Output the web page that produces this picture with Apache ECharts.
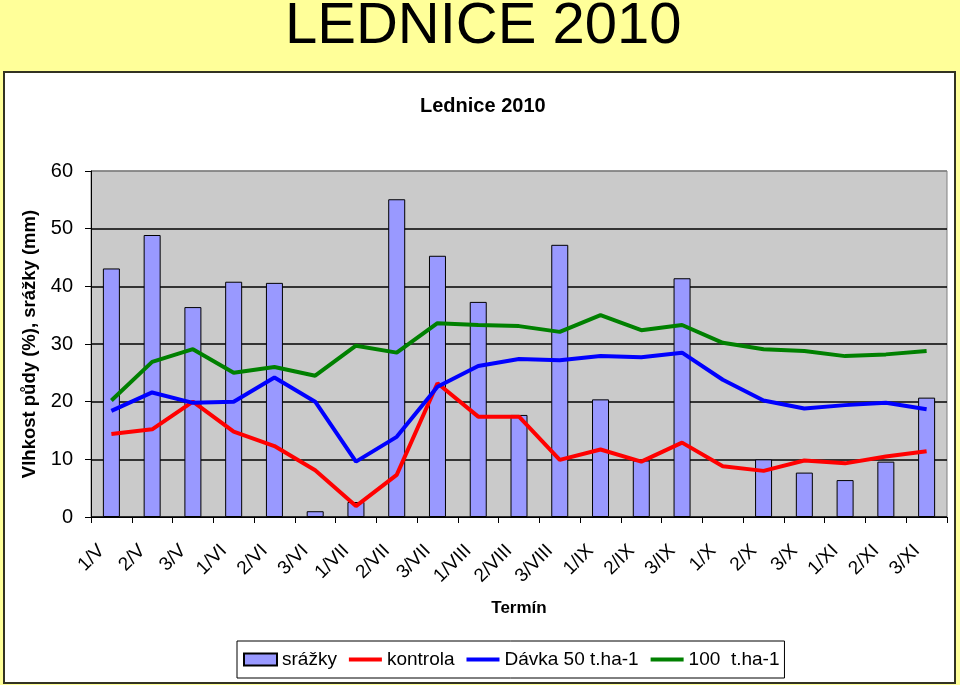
<!DOCTYPE html>
<html>
<head>
<meta charset="utf-8">
<script src="https://cdn.jsdelivr.net/npm/echarts@6/dist/echarts.min.js"></script>
<style>
html,body{margin:0;padding:0;background:#FFFF99;}
#c{width:960px;height:685px;}
</style>
</head>
<body>
<div id="c"></div>
<script>
const categories = ['1/V','2/V','3/V','1/VI','2/VI','3/VI','1/VII','2/VII','3/VII','1/VIII','2/VIII','3/VIII','1/IX','2/IX','3/IX','1/X','2/X','3/X','1/XI','2/XI','3/XI'];
const srazky   = [43.1, 48.9, 36.4, 40.8, 40.6, 1.0, 2.6, 55.1, 45.3, 37.3, 17.7, 47.2, 20.4, 9.8, 41.4, null, 10.0, 7.7, 6.4, 9.6, 20.7];
const kontrola = [14.4, 15.2, 20.0, 14.8, 12.3, 8.1, 1.9, 7.3, 23.2, 17.4, 17.4, 9.9, 11.7, 9.6, 12.9, 8.8, 8.0, 9.8, 9.3, 10.5, 11.4];
const davka50  = [18.4, 21.6, 19.8, 20.0, 24.2, 20.0, 9.6, 13.9, 22.6, 26.2, 27.4, 27.2, 27.9, 27.7, 28.5, 23.8, 20.2, 18.8, 19.4, 19.8, 18.7];
const davka100 = [20.2, 26.9, 29.1, 25.0, 26.0, 24.5, 29.7, 28.5, 33.6, 33.3, 33.1, 32.1, 35.0, 32.4, 33.3, 30.2, 29.1, 28.8, 27.9, 28.2, 28.8];
const seriesNames = ['srážky', 'kontrola', 'Dávka 50 t.ha-1', '100  t.ha-1'];

const FONT = 'Liberation Sans, Arial, sans-serif';
const LINE_ICON = 'path://M0,0 L33,0 L33,4 L0,4 Z';
const chart = echarts.init(document.getElementById('c'), null, {renderer: 'canvas'});
chart.setOption({
  backgroundColor: '#FFFF99',
  animation: false,
  textStyle: {fontFamily: FONT, color: '#000'},
  graphic: [{
    type: 'rect', z: -10, silent: true,
    shape: {x: 4, y: 72, width: 951, height: 611},
    style: {fill: '#FFFFFF', stroke: '#333322', lineWidth: 2}
  }],
  title: [
    {text: 'LEDNICE 2010', left: 285, top: -2, padding: 0,
     textStyle: {fontFamily: FONT, fontSize: 58, fontWeight: 'normal', color: '#000'}},
    {text: 'Lednice 2010', left: 420, top: 96, padding: 0,
     textStyle: {fontFamily: FONT, fontSize: 20, fontWeight: 'bold', color: '#000'}}
  ],
  legend: {
    left: 237, top: 641,
    orient: 'horizontal',
    borderColor: '#000', borderWidth: 1,
    padding: [9, 5, 9, 6],
    itemGap: 12, itemWidth: 33, itemHeight: 12,
    textStyle: {fontFamily: FONT, fontSize: 19, color: '#000'},
    data: [
      {name: seriesNames[0], icon: 'rect'},
      {name: seriesNames[1], icon: LINE_ICON},
      {name: seriesNames[2], icon: LINE_ICON},
      {name: seriesNames[3], icon: LINE_ICON}
    ]
  },
  grid: {left: 91, right: 13, top: 171, bottom: 168, show: true,
         backgroundColor: '#CACACA', borderColor: '#808080', borderWidth: 1},
  xAxis: {
    type: 'category', data: categories,
    name: 'Termín', nameLocation: 'middle', nameGap: 83,
    nameTextStyle: {fontFamily: FONT, fontSize: 17, fontWeight: 'bold', color: '#000'},
    axisLine: {lineStyle: {color: '#000', width: 1}},
    axisTick: {show: true, interval: 0, length: 6, lineStyle: {color: '#000'}},
    axisLabel: {interval: 0, rotate: 45, fontSize: 19, color: '#000', margin: 21,
                padding: [0, 14, 0, 0], fontFamily: FONT}
  },
  yAxis: {
    type: 'value', min: 0, max: 60, interval: 10,
    name: 'Vlhkost půdy (%), srážky (mm)', nameLocation: 'middle', nameGap: 47,
    nameTextStyle: {fontFamily: FONT, fontSize: 18.5, fontWeight: 'bold', color: '#000'},
    axisLine: {show: true, lineStyle: {color: '#000', width: 1}},
    axisTick: {show: true, length: 6, lineStyle: {color: '#000'}},
    axisLabel: {fontSize: 20, color: '#000', margin: 18, fontFamily: FONT},
    splitLine: {show: true, lineStyle: {color: ['#000','#000','#000','#000','#000','#000','#808080'], width: 1.5}}
  },
  series: [
    {name: seriesNames[0], type: 'bar', data: srazky, barWidth: 17, z: 2,
     itemStyle: {color: '#9999FF', borderColor: '#000', borderWidth: 1}},
    {name: seriesNames[1], type: 'line', data: kontrola, symbol: 'none', z: 3,
     lineStyle: {color: '#FF0000', width: 4}, itemStyle: {color: '#FF0000'}},
    {name: seriesNames[2], type: 'line', data: davka50, symbol: 'none', z: 3,
     lineStyle: {color: '#0000FF', width: 4}, itemStyle: {color: '#0000FF'}},
    {name: seriesNames[3], type: 'line', data: davka100, symbol: 'none', z: 3,
     lineStyle: {color: '#008000', width: 4}, itemStyle: {color: '#008000'}}
  ]
});
</script>
</body>
</html>
